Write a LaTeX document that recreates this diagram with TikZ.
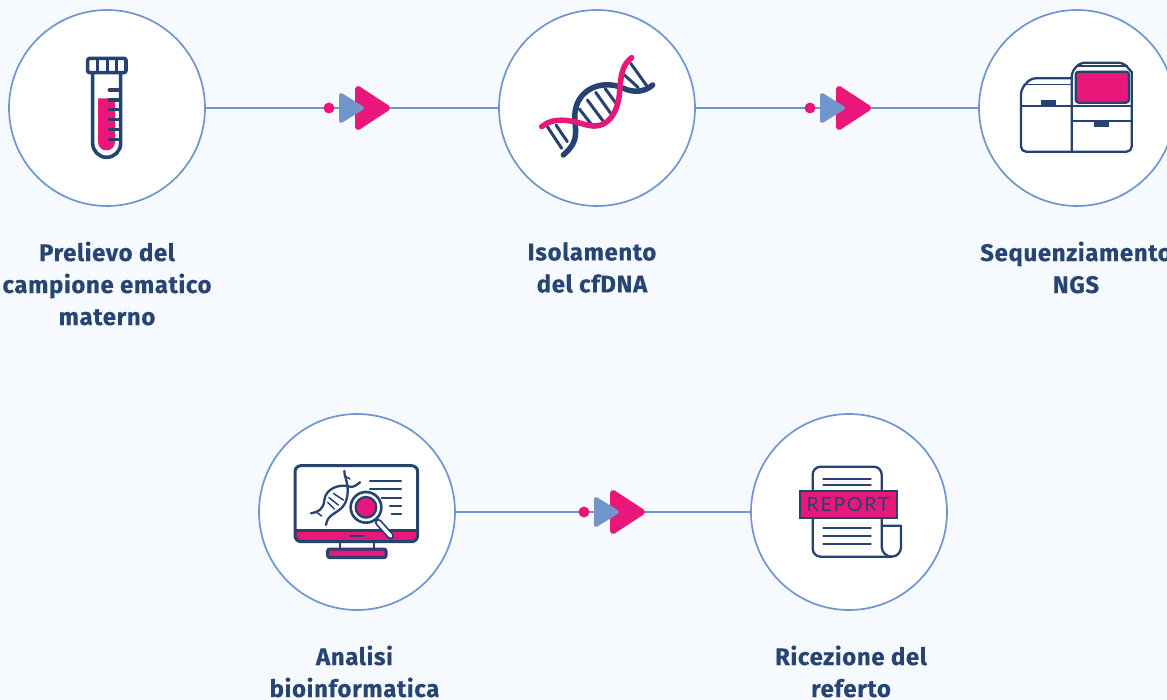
\documentclass[tikz,border=0pt]{standalone}
\usepackage{fontspec}
\setmainfont{Fira Sans}[BoldFont={Fira Sans Bold},BoldFeatures={LetterSpace=2.6,FakeBold=0.25}]
\newfontfamily\reportfont{Lato}[LetterSpace=9]
\definecolor{bgc}{HTML}{F6F9FE}
\definecolor{ringc}{HTML}{7096CE}
\definecolor{pinkc}{HTML}{E9177A}
\definecolor{navyc}{HTML}{26426F}
\definecolor{labelc}{HTML}{264573}
\tikzset{
  stepcircle/.style={circle,draw=ringc,line width=1.7pt,fill=white,minimum size=196pt,inner sep=0pt},
  steplabel/.style={align=center,text=labelc,font=\fontsize{24}{32}\selectfont\bfseries,inner sep=0pt},
  link/.style={draw=ringc,line width=1.7pt},
  ink/.style={draw=navyc,line width=2.3pt,line cap=round,line join=round},
  thick ink/.style={draw=navyc,line width=3.6pt,line cap=round,line join=round},
  flowmark/.pic={
    \fill[pinkc] (-23,0) circle (5.5);
    \fill[pinkc,draw=pinkc,line width=6pt,line join=round] (6,-19) -- (35,0) -- (6,19) -- cycle;
    \fill[ringc,draw=ringc,line width=4pt,line join=round] (-11,-13) -- (10,0) -- (-11,13) -- cycle;
  }
}
\begin{document}
\begin{tikzpicture}[x=1pt,y=-1pt]
\useasboundingbox (0,0) rectangle (1167,700);
\fill[bgc] (0,0) rectangle (1167,700);
% circles
\node[stepcircle] (c1) at (107,108) {};
\node[stepcircle] (c2) at (597,108) {};
\node[stepcircle] (c3) at (1077,108) {};
\node[stepcircle] (c4) at (357,512) {};
\node[stepcircle] (c5) at (849,512) {};
% connectors
\draw[link] (c1) -- (c2);
\draw[link] (c2) -- (c3);
\draw[link] (c4) -- (c5);
\pic at (352,108) {flowmark};
\pic at (833,108) {flowmark};
\pic at (607,512) {flowmark};
% labels
\node[steplabel] (l1) at (107,283.5) {Prelievo del\\campione ematico\\materno};
\node[steplabel] (l2) at (592,267.5) {Isolamento\\del cfDNA};
\node[steplabel] (l3) at (1076,267.5) {Sequenziamento\\NGS};
\node[steplabel] (l4) at (354.5,671.5) {Analisi\\bioinformatica};
\node[steplabel] (l5) at (851,671.5) {Ricezione del\\referto};
% tube
\begin{scope}[shift={(60,40)},scale=1/3]
  \fill[pinkc] (114,175) -- (165,175) -- (165,306) arc[start angle=0,end angle=180,radius=25.5] -- cycle;
  \draw[thick ink] (98,100) -- (98,310) arc[start angle=180,end angle=0,radius=42] -- (182,100);
  \draw[thick ink,rounded corners=2pt] (83,55) rectangle (198,98);
  \foreach \x in {113,142,170} \draw[thick ink,line cap=butt] (\x,55) -- (\x,98);
  \foreach \y in {150,180,209,239,269,298} \draw[thick ink] (148,\y) -- (180,\y);
\end{scope}
% dna
\begin{scope}[shift={(530,45)},scale=1/3]
  \foreach \a/\b/\c/\d in {52/245/95/310, 78/240/112/290, 148/192/192/248, 172/165/222/232, 197/142/242/205, 225/130/258/175, 283/90/325/128, 302/55/350/122}
    \draw[navyc,line width=3pt,line cap=round] (\a,\b) -- (\c,\d);
  \draw[navyc,line width=5.5pt,line cap=round] (100,330) .. controls (165,275) and (120,240) .. (140,180) .. controls (160,125) and (225,105) .. (280,130) .. controls (315,145) and (345,140) .. (368,120);
  \draw[pinkc,line width=5.5pt,line cap=round] (35,245) .. controls (70,215) and (120,225) .. (170,240) .. controls (230,255) and (260,210) .. (268,150) .. controls (272,95) and (275,60) .. (305,38);
\end{scope}
% sequencer
\begin{scope}[shift={(1010,50)},scale=1/3]
  \fill[navyc] (92,151) rectangle (138,168);
  \fill[navyc] (252,214) rectangle (298,232);
  \draw[ink,rounded corners=5pt] (185,85) -- (62,85) -- (33,118) -- (33,305) -- (365,305) -- (365,66);
  \draw[ink,rounded corners=5pt] (185,305) -- (185,66) -- (210,38) -- (340,38) -- (365,66);
  \draw[ink,line width=1.2pt] (42,103) -- (185,103);
  \draw[ink,line width=1.2pt] (200,48) -- (352,48);
  \draw[ink] (33,169) -- (365,169);
  \draw[ink] (185,213) -- (365,213);
  \draw[ink,fill=pinkc,rounded corners=3pt] (197,65) rectangle (357,158);
\end{scope}
% monitor
\begin{scope}[shift={(285,455)},scale=1/3]
  \fill[pinkc,rounded corners=5pt] (30,225) rectangle (398,260);
  \draw[thick ink,line width=3pt,rounded corners=6pt] (30,32) rectangle (398,260);
  \draw[thick ink,line width=3pt,line cap=butt] (30,225) -- (398,225);
  \draw[ink] (197,242) -- (236,242);
  \draw[ink] (165,262) -- (165,280);
  \draw[ink] (268,262) -- (268,280);
  \draw[thick ink,line width=3pt,fill=pinkc,rounded corners=2pt] (128,282) rectangle (303,308);
  \foreach \a/\b in {255/78,255/103,290/128,315/153,320/178}
    \draw[ink] (\a,\b) -- (348,\b);
  % small helix
  \draw[ink] (78,175) .. controls (100,170) and (115,165) .. (118,135) .. controls (122,100) and (165,85) .. (195,95) .. controls (205,98) and (215,90) .. (225,82);
  \draw[ink] (123,210) .. controls (126,175) and (165,175) .. (180,145) .. controls (192,120) and (188,95) .. (185,80) .. controls (183,70) and (178,60) .. (178,48);
  \foreach \a/\b/\c/\d in {132/128/160/150,145/115/175/135,128/142/148/162,95/172/110/183,178/62/195/72}
    \draw[ink,line width=1.5pt] (\a,\b) -- (\c,\d);
  \draw[line width=7pt,navyc,line cap=round] (280,202) -- (317,243);
  \draw[line width=3.5pt,white,line cap=round] (280,202) -- (317,243);
  \fill[white] (243,157) circle (45);
  \draw[ink,line width=2.6pt] (243,157) circle (46);
  \draw[ink,fill=pinkc] (243,157) circle (31);
\end{scope}
% report
\begin{scope}[shift={(790,455)},scale=1/3]
  \draw[ink,rounded corners=8pt] (275,212) -- (275,35) -- (68,35) -- (68,305) -- (305,305);
  \draw[ink] (275,212) -- (333,212) -- (333,277) arc[start angle=0,end angle=90,radius=28] arc[start angle=90,end angle=180,radius=30] -- (275,212);
  \foreach \y in {72,90,218,243,268} \draw[ink] (100,\y) -- (242,\y);
  \node[draw=navyc,line width=2pt,fill=pinkc,minimum width=97pt,minimum height=27pt,inner sep=0pt,text=navyc,font=\fontsize{19.5}{20}\reportfont] (report) at (174,149) {REPORT};
\end{scope}
\end{tikzpicture}
\end{document}
